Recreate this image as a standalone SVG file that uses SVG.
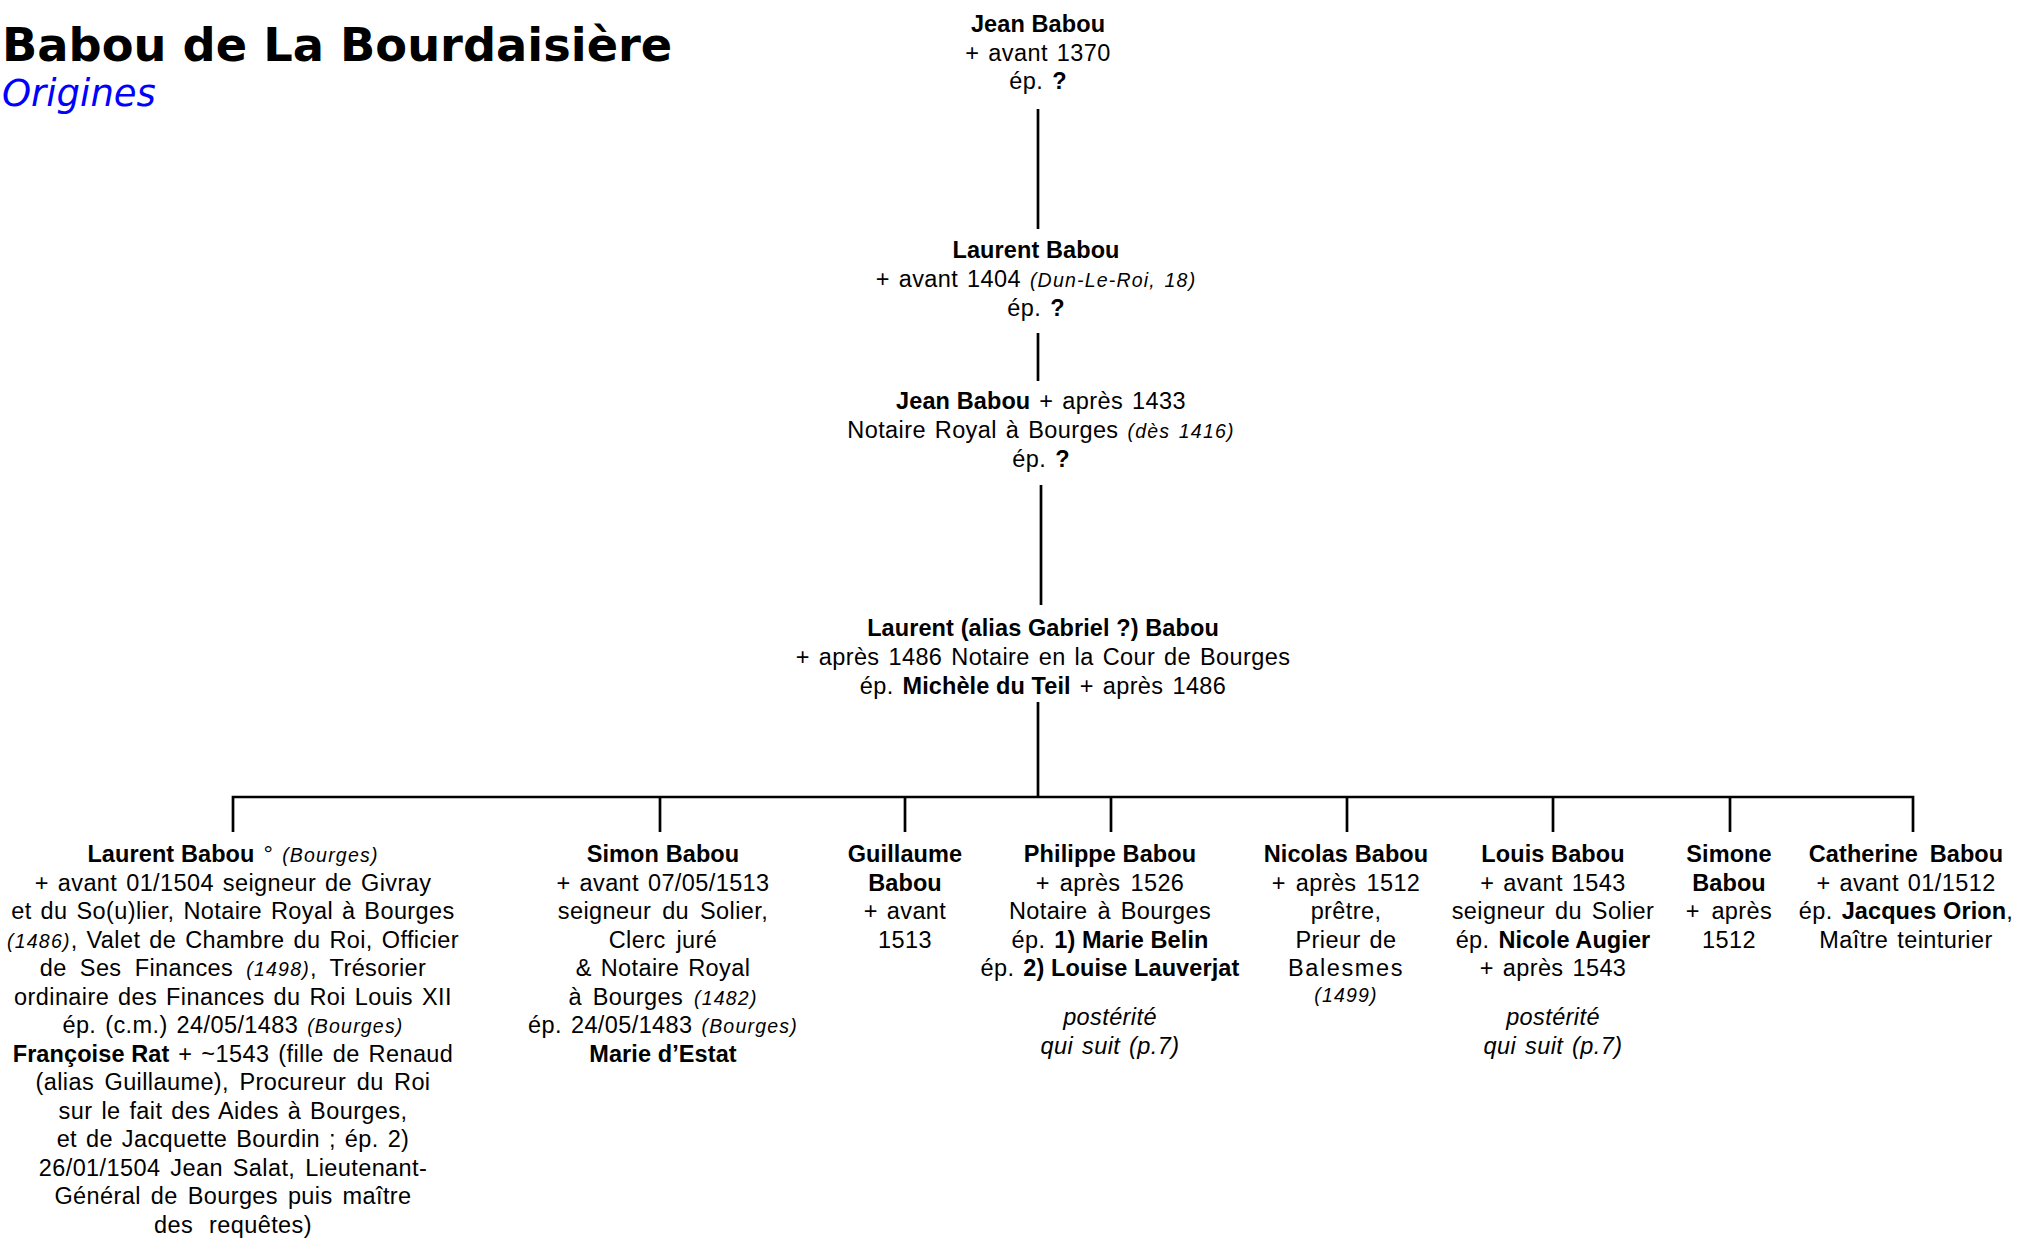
<svg xmlns="http://www.w3.org/2000/svg" width="2017" height="1238" viewBox="0 0 2017 1238">
<style>
.t{font-family:"Liberation Sans",Arial,sans-serif;font-size:23.5px;text-anchor:middle;fill:#000;letter-spacing:0.4px;word-spacing:2px}
.b{font-weight:bold;letter-spacing:0.1px;word-spacing:0}
.i{font-style:italic;font-size:19.5px;letter-spacing:1.2px}
.ii{font-style:italic}
.ln{stroke:#000;stroke-width:2.7;fill:none}
</style>
<rect width="2017" height="1238" fill="#fff"/>
<g id="title">
<text x="2" y="61" style="font-family:'DejaVu Sans',Verdana,sans-serif;font-weight:bold;font-size:46.3px;fill:#000">Babou de La Bourdaisière</text>
<text x="2" y="106" style="font-family:'DejaVu Sans',Verdana,sans-serif;font-style:italic;font-size:37px;fill:#0000ff">Origines</text>
</g>
<g id="connectors">
<line class="ln" x1="1038" y1="109" x2="1038" y2="229"/>
<line class="ln" x1="1038" y1="333" x2="1038" y2="381"/>
<line class="ln" x1="1041" y1="485" x2="1041" y2="605"/>
<line class="ln" x1="1038" y1="702" x2="1038" y2="797"/>
<polyline class="ln" points="233,832 233,797 1913,797 1913,832"/>
<line class="ln" x1="660" y1="797" x2="660" y2="832"/>
<line class="ln" x1="905" y1="797" x2="905" y2="832"/>
<line class="ln" x1="1111" y1="797" x2="1111" y2="832"/>
<line class="ln" x1="1347" y1="797" x2="1347" y2="832"/>
<line class="ln" x1="1553" y1="797" x2="1553" y2="832"/>
<line class="ln" x1="1730" y1="797" x2="1730" y2="832"/>
</g>
<g id="n1">
<text class="t" x="1038" y="32"><tspan class="b">Jean Babou</tspan></text>
<text class="t" x="1038" y="61">+ avant 1370</text>
<text class="t" x="1038" y="89">ép. <tspan class="b">?</tspan></text>
</g>
<g id="n2">
<text class="t" x="1036" y="258"><tspan class="b">Laurent Babou</tspan></text>
<text class="t" x="1036" y="287">+ avant 1404 <tspan class="i">(Dun-Le-Roi, 18)</tspan></text>
<text class="t" x="1036" y="316">ép. <tspan class="b">?</tspan></text>
</g>
<g id="n3">
<text class="t" x="1041" y="409"><tspan class="b">Jean Babou</tspan> + après 1433</text>
<text class="t" x="1041" y="438">Notaire Royal à Bourges <tspan class="i">(dès 1416)</tspan></text>
<text class="t" x="1041" y="467">ép. <tspan class="b">?</tspan></text>
</g>
<g id="n4">
<text class="t" x="1043" y="636"><tspan class="b">Laurent (alias Gabriel ?) Babou</tspan></text>
<text class="t" x="1043" y="665">+ après 1486 Notaire en la Cour de Bourges</text>
<text class="t" x="1043" y="694">ép. <tspan class="b">Michèle du Teil</tspan> + après 1486</text>
</g>
<g id="c1">
<text class="t" x="233" y="862"><tspan class="b">Laurent Babou</tspan> ° <tspan class="i">(Bourges)</tspan></text>
<text class="t" x="233" y="890.5">+ avant 01/1504 seigneur de Givray</text>
<text class="t" x="233" y="919">et du So(u)lier, Notaire Royal à Bourges</text>
<text class="t" x="233" y="947.5"><tspan class="i">(1486)</tspan>, Valet de Chambre du Roi, Officier</text>
<text class="t" x="233" y="976" style="word-spacing:6.2px">de Ses Finances <tspan class="i">(1498)</tspan>, Trésorier</text>
<text class="t" x="233" y="1004.5">ordinaire des Finances du Roi Louis XII</text>
<text class="t" x="233" y="1033">ép. (c.m.) 24/05/1483 <tspan class="i">(Bourges)</tspan></text>
<text class="t" x="233" y="1061.5"><tspan class="b">Françoise Rat</tspan> + ~1543 (fille de Renaud</text>
<text class="t" x="233" y="1090" style="word-spacing:3.5px">(alias Guillaume), Procureur du Roi</text>
<text class="t" x="233" y="1118.5">sur le fait des Aides à Bourges,</text>
<text class="t" x="233" y="1147">et de Jacquette Bourdin ; ép. 2)</text>
<text class="t" x="233" y="1175.5" style="word-spacing:3px">26/01/1504 Jean Salat, Lieutenant-</text>
<text class="t" x="233" y="1204" style="word-spacing:3px">Général de Bourges puis maître</text>
<text class="t" x="233" y="1232.5" style="word-spacing:9px">des requêtes)</text>
</g>
<g id="c2">
<text class="t" x="663" y="862"><tspan class="b">Simon Babou</tspan></text>
<text class="t" x="663" y="890.5">+ avant 07/05/1513</text>
<text class="t" x="663" y="919" style="word-spacing:4px">seigneur du Solier,</text>
<text class="t" x="663" y="947.5" style="word-spacing:4px">Clerc juré</text>
<text class="t" x="663" y="976">&amp; Notaire Royal</text>
<text class="t" x="663" y="1004.5" style="word-spacing:4px">à Bourges <tspan class="i">(1482)</tspan></text>
<text class="t" x="663" y="1033">ép. 24/05/1483 <tspan class="i">(Bourges)</tspan></text>
<text class="t" x="663" y="1061.5"><tspan class="b">Marie d’Estat</tspan></text>
</g>
<g id="c3">
<text class="t" x="905" y="862"><tspan class="b">Guillaume</tspan></text>
<text class="t" x="905" y="890.5"><tspan class="b">Babou</tspan></text>
<text class="t" x="905" y="919">+ avant</text>
<text class="t" x="905" y="947.5">1513</text>
</g>
<g id="c4">
<text class="t" x="1110" y="862"><tspan class="b">Philippe Babou</tspan></text>
<text class="t" x="1110" y="890.5" style="word-spacing:3px">+ après 1526</text>
<text class="t" x="1110" y="919" style="word-spacing:3px">Notaire à Bourges</text>
<text class="t" x="1110" y="947.5">ép. <tspan class="b">1) Marie Belin</tspan></text>
<text class="t" x="1110" y="976">ép. <tspan class="b">2) Louise Lauverjat</tspan></text>
<text class="t ii" x="1110" y="1025">postérité</text>
<text class="t ii" x="1110" y="1054">qui suit (p.7)</text>
</g>
<g id="c5">
<text class="t" x="1346" y="862"><tspan class="b">Nicolas Babou</tspan></text>
<text class="t" x="1346" y="890.5" style="word-spacing:3px">+ après 1512</text>
<text class="t" x="1346" y="919">prêtre,</text>
<text class="t" x="1346" y="947.5">Prieur de</text>
<text class="t" x="1346" y="976" style="letter-spacing:1.6px">Balesmes</text>
<text class="t" x="1346" y="1002"><tspan class="i">(1499)</tspan></text>
</g>
<g id="c6">
<text class="t" x="1553" y="862"><tspan class="b">Louis Babou</tspan></text>
<text class="t" x="1553" y="890.5">+ avant 1543</text>
<text class="t" x="1553" y="919" style="word-spacing:3px">seigneur du Solier</text>
<text class="t" x="1553" y="947.5">ép. <tspan class="b">Nicole Augier</tspan></text>
<text class="t" x="1553" y="976">+ après 1543</text>
<text class="t ii" x="1553" y="1025">postérité</text>
<text class="t ii" x="1553" y="1054">qui suit (p.7)</text>
</g>
<g id="c7">
<text class="t" x="1729" y="862"><tspan class="b">Simone</tspan></text>
<text class="t" x="1729" y="890.5"><tspan class="b">Babou</tspan></text>
<text class="t" x="1729" y="919" style="word-spacing:4.5px">+ après</text>
<text class="t" x="1729" y="947.5">1512</text>
</g>
<g id="c8">
<text class="t" x="1906" y="862"><tspan class="b" style="word-spacing:5px">Catherine Babou</tspan></text>
<text class="t" x="1906" y="890.5">+ avant 01/1512</text>
<text class="t" x="1906" y="919">ép. <tspan class="b">Jacques Orion</tspan>,</text>
<text class="t" x="1906" y="947.5">Maître teinturier</text>
</g>
</svg>
